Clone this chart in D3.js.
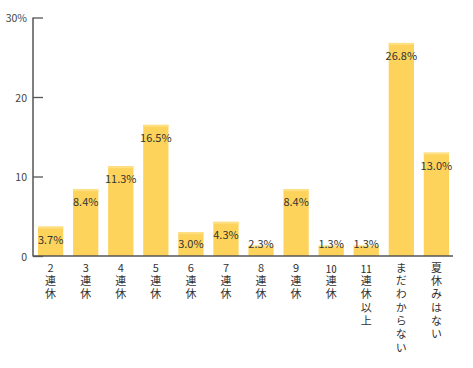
<!DOCTYPE html>
<html><head><meta charset="utf-8">
<script src="https://cdn.jsdelivr.net/npm/d3@7"></script>
<style>
html,body{margin:0;padding:0;background:#fff;}
#wrap{position:relative;width:473px;height:368px;}
svg{position:absolute;left:0;top:0;}
text{font-family:"Noto Sans CJK JP","Noto Sans",sans-serif;}
.xl{position:absolute;font-family:"Noto Sans CJK JP","Noto Sans",sans-serif;font-size:11px;color:#333;
  writing-mode:vertical-rl;text-orientation:upright;letter-spacing:2.3px;line-height:14px;width:14px;white-space:nowrap;}
.xl .tcy{text-combine-upright:all;letter-spacing:0;margin-bottom:2.3px;}
</style></head>
<body><div id="wrap"><svg id="c" width="473" height="368"></svg></div>
<script>
const categories = ["2連休","3連休","4連休","5連休","6連休","7連休","8連休","9連休","10連休","11連休以上","まだわからない","夏休みはない"];
const labelLines = [["2","連","休"],["3","連","休"],["4","連","休"],["5","連","休"],["6","連","休"],["7","連","休"],["8","連","休"],["9","連","休"],["10","連","休"],["11","連","休","以","上"],["ま","だ","わ","か","ら","な","い"],["夏","休","み","は","な","い"]];
// bar heights as drawn in the reference (the 8連休 bar is drawn at ~1.3 despite its 2.3% label)
const barValues = [3.7,8.4,11.3,16.5,3.0,4.3,1.3,8.4,1.3,1.3,26.8,13.0];
const valueLabels = ["3.7%","8.4%","11.3%","16.5%","3.0%","4.3%","2.3%","8.4%","1.3%","1.3%","26.8%","13.0%"];
const yTicks = [0,10,20,30];
const yTickLabels = ["0","10","20","30%"];

const svg = d3.select("#c");
const y = d3.scaleLinear().domain([0,30]).range([256,17.5]);
const x = d3.scaleBand().domain(categories).range([38,449]).paddingInner(0.28).paddingOuter(0);

const barColor = "#FDD35B", topColor = "#FEDF82", axisColor = "#555", textColor = "#333";

// bars
const g = svg.append("g");
g.selectAll("rect.bar").data(categories).join("rect").attr("class","bar")
  .attr("x", d=>x(d)).attr("width", x.bandwidth())
  .attr("y", (d,i)=>y(barValues[i])).attr("height",(d,i)=>y(0)-y(barValues[i]))
  .attr("fill", barColor);
g.selectAll("rect.top").data(categories).join("rect").attr("class","top")
  .attr("x", d=>x(d)).attr("width", x.bandwidth())
  .attr("y", (d,i)=>y(barValues[i])).attr("height",2)
  .attr("fill", topColor);

// value labels
g.selectAll("text.val").data(categories).join("text").attr("class","val")
  .attr("x", d=>x(d)+x.bandwidth()/2)
  .attr("y", (d,i)=>Math.min(y(barValues[i])+12, 242.5))
  .attr("text-anchor","middle").attr("dominant-baseline","central")
  .attr("font-size","11px").attr("fill",textColor)
  .text((d,i)=>valueLabels[i]);

// y axis
const yAxis = d3.axisRight(y).tickValues(yTicks).tickSize(10).tickFormat("");
const ya = svg.append("g").attr("transform","translate(33,0)").call(yAxis);
ya.select(".domain").remove();
ya.selectAll(".tick line").attr("stroke",axisColor).attr("stroke-width",1.3);
svg.append("line").attr("x1",33).attr("x2",33).attr("y1",y(30)).attr("y2",y(0)+0.5)
  .attr("stroke",axisColor).attr("stroke-width",1.5);
svg.selectAll("text.yt").data(yTicks).join("text").attr("class","yt")
  .attr("x",27).attr("y",d=>y(d)).attr("text-anchor","end").attr("dominant-baseline","central")
  .attr("font-size","10.5px").attr("fill","#444")
  .text((d,i)=>yTickLabels[i]);

// x baseline
svg.append("line").attr("x1",33).attr("x2",453).attr("y1",y(0)).attr("y2",y(0))
  .attr("stroke",axisColor).attr("stroke-width",1.5);

// x labels: vertical writing, one block per category
const wrap = d3.select("#wrap");
wrap.selectAll("div.xl").data(categories).join("div").attr("class","xl")
  .style("left", d=>(x(d)+x.bandwidth()/2-7)+"px")
  .style("top", "262px")
  .each(function(d,i){
    d3.select(this).selectAll("span").data(labelLines[i]).join("span")
      .attr("class", c=>c.length>1?"tcy":null)
      .text(c=>c);
  });
</script></body></html>
